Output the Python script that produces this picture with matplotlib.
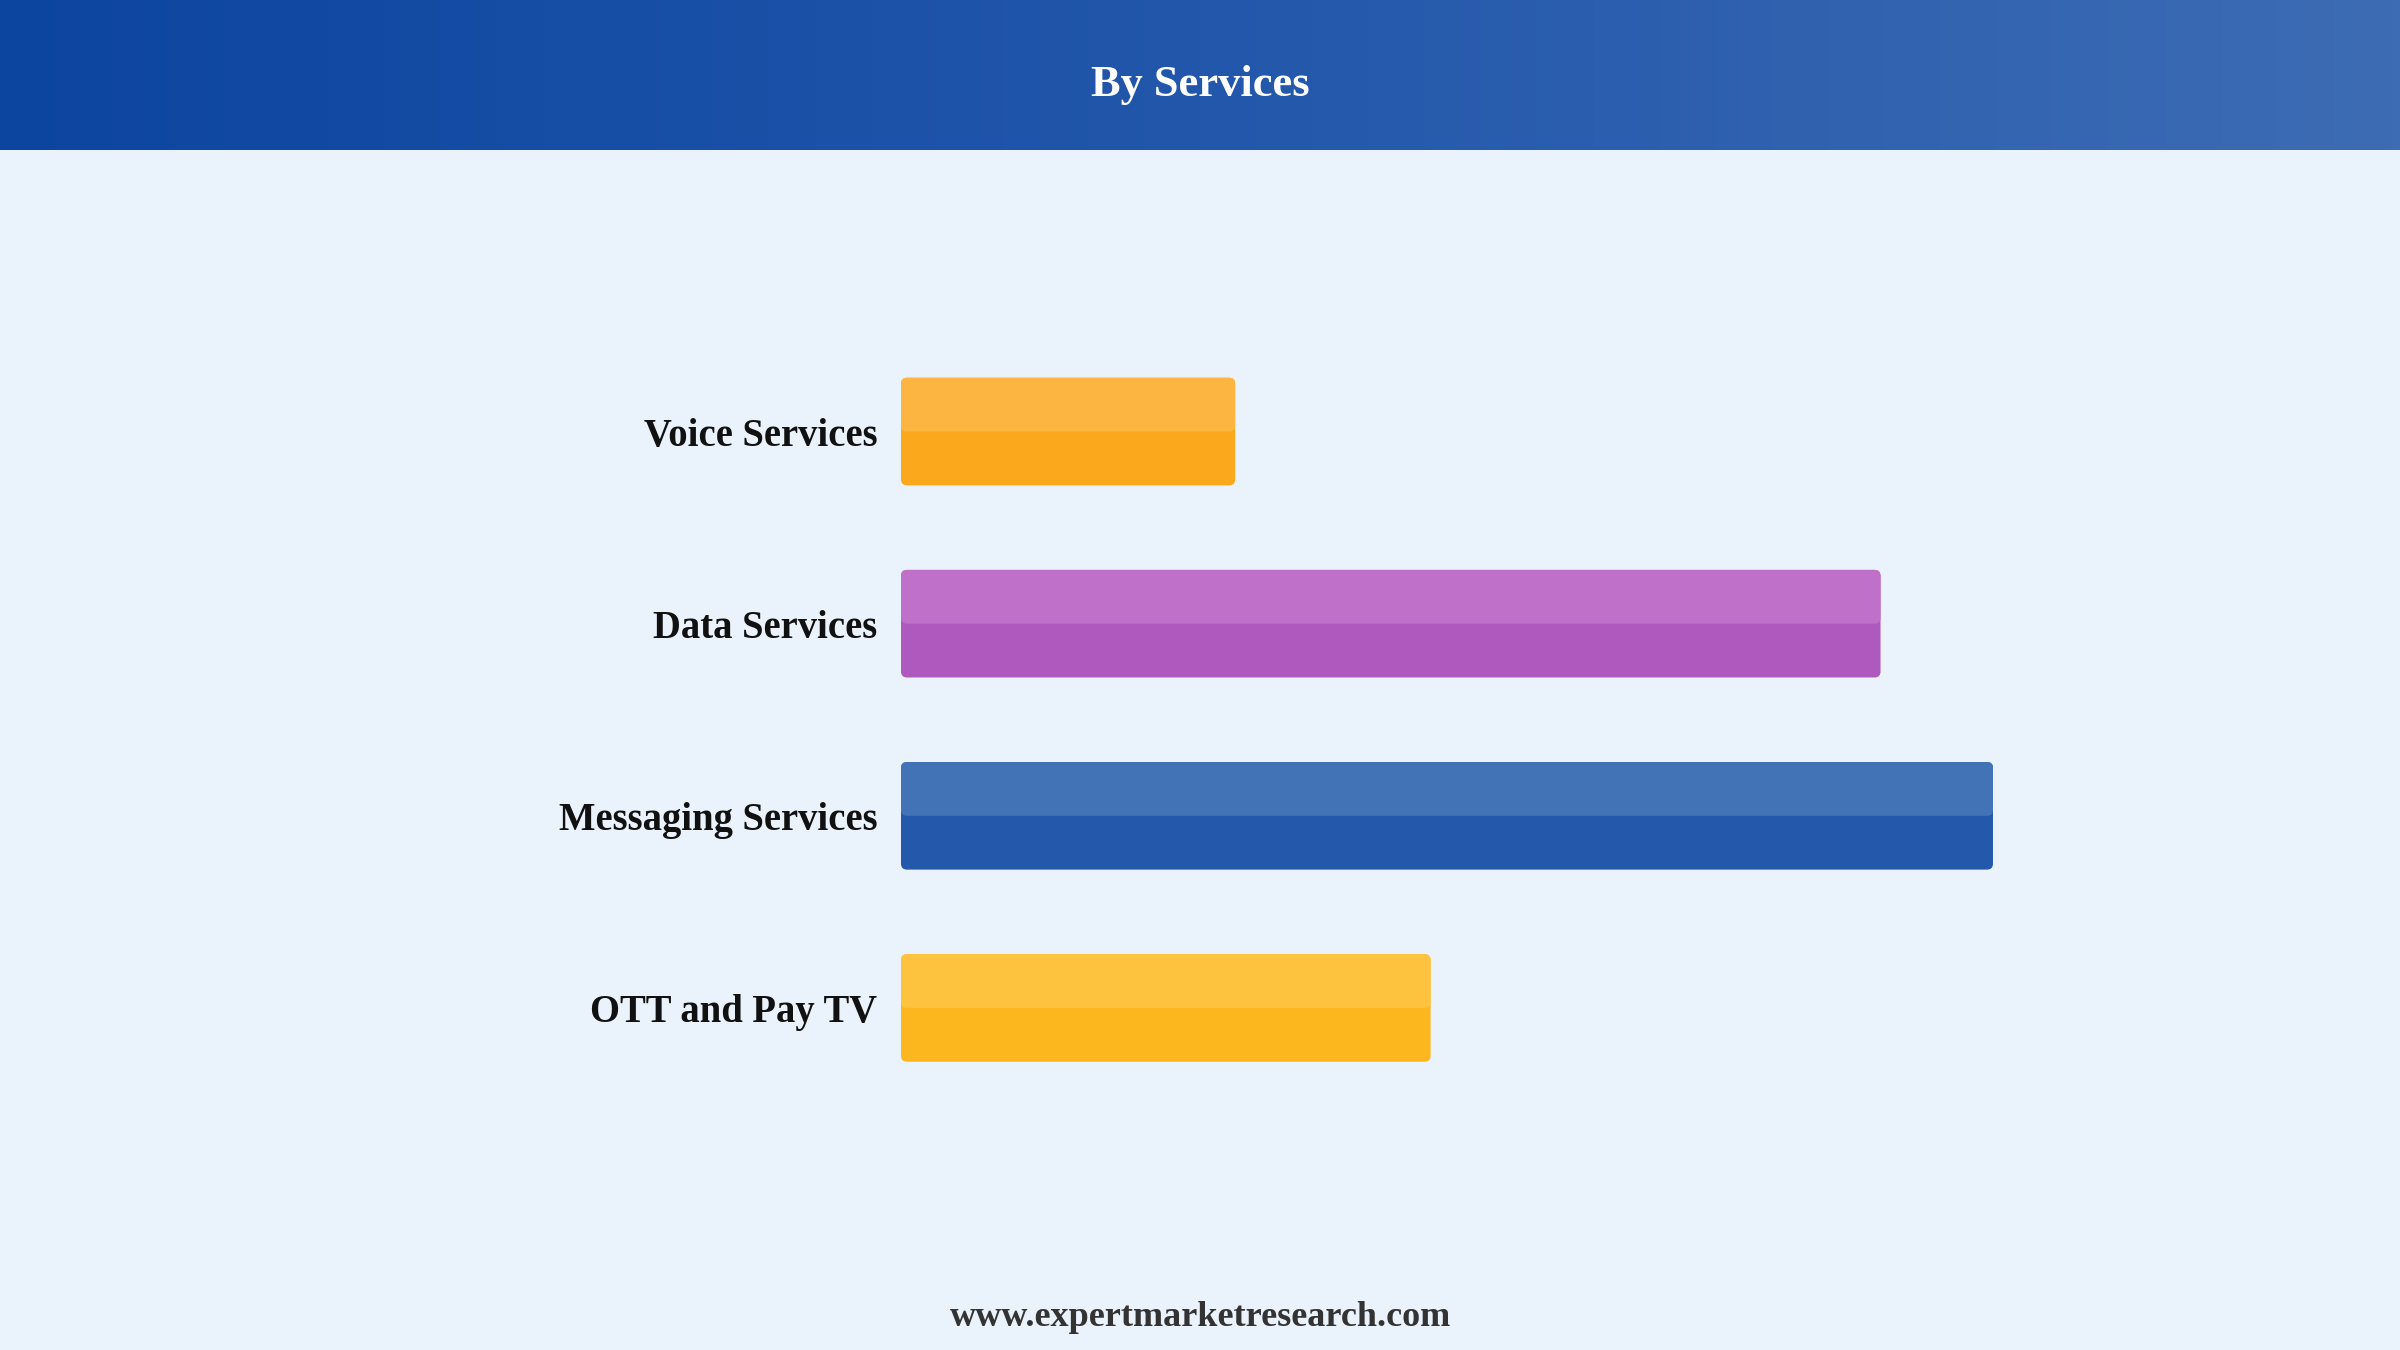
import numpy as np
import matplotlib.pyplot as plt
from matplotlib.patches import FancyBboxPatch
from matplotlib.colors import LinearSegmentedColormap

# data (relative bar lengths, largest = 100)
services = ["Voice Services", "Data Services", "Messaging Services", "OTT and Pay TV"]
values = [30.6, 89.7, 100.0, 48.5]
top_colors = ["#FBB540", "#BF70C8", "#4373B7", "#FDC23E"]
bottom_colors = ["#FBA81C", "#AF59BE", "#2358AA", "#FDB71E"]

title = "By Services"
footer = "www.expertmarketresearch.com"

BG = "#EAF2FB"
SERIF = ["Liberation Serif", "DejaVu Serif"]

W, H = 2400, 1350
fig = plt.figure(figsize=(24, 13.5), dpi=100, facecolor=BG)

# header band with horizontal gradient
hdr = fig.add_axes([0, 1 - 150 / H, 1, 150 / H])
cmap = LinearSegmentedColormap.from_list("hdr", ["#0C45A0", "#2257AB", "#3D6CB4"])
hdr.imshow(np.linspace(0, 1, 256).reshape(1, -1), aspect="auto", cmap=cmap,
           extent=[0, 1, 0, 1])
hdr.set_axis_off()
fig.text(0.5, 1 - 85 / H, title, ha="center", va="center", color="white",
         fontsize=32, fontweight="bold", family=SERIF)

# bar axes, placed so that x 0..100 spans the bar region
left_px, right_px = 901, 1993
top_px, bot_px = 335.5, 1104
ax = fig.add_axes([left_px / W, 1 - bot_px / H, (right_px - left_px) / W,
                   (bot_px - top_px) / H])
ax.set_facecolor("none")
ax.set_xlim(0, 100)
ax.set_ylim(3.5, -0.5)

bar_h = 0.56
bars = ax.barh(range(len(services)), values, height=bar_h, color="none")

# rounded two-tone bars built from the barh geometry
px_x = 100 / (right_px - left_px)
px_y = 4 / (bot_px - top_px)
rs = 6 * px_x
asp = px_y / px_x
for rect, ctop, cbot in zip(bars.patches, top_colors, bottom_colors):
    x0, y0 = rect.get_x(), rect.get_y()
    w, h = rect.get_width(), rect.get_height()
    rect.set_visible(False)
    ax.add_patch(FancyBboxPatch((x0, y0), w, h,
                                boxstyle=f"round,pad=0,rounding_size={rs}",
                                mutation_aspect=asp, facecolor=cbot,
                                edgecolor="none"))
    ax.add_patch(FancyBboxPatch((x0, y0), w, h / 2,
                                boxstyle=f"round,pad=0,rounding_size={rs}",
                                mutation_aspect=asp, facecolor=ctop,
                                edgecolor="none"))

ax.set_yticks(range(len(services)))
ax.set_yticklabels(services, fontsize=27.8, fontweight="bold", family=SERIF,
                   color="#111111")
ax.tick_params(axis="y", length=0, pad=17)
ax.set_xticks([])
for s in ax.spines.values():
    s.set_visible(False)

fig.text(0.5, 1 - 1318 / H, footer, ha="center", va="center", color="#333333",
         fontsize=26, fontweight="bold", family=SERIF)

fig.savefig("out.png", dpi=100, facecolor=BG)
